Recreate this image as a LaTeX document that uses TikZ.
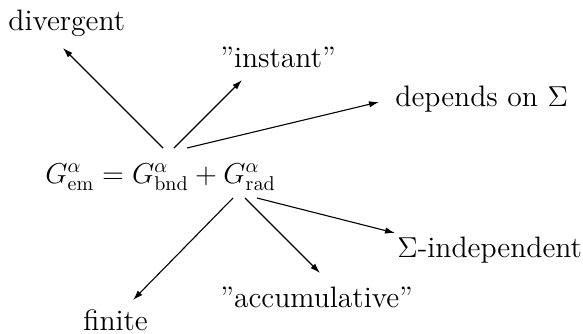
\documentclass[tikz,border=0pt]{standalone}
\usetikzlibrary{arrows.meta}
\begin{document}
\begin{tikzpicture}[x=0.5pt,y=-0.5pt,
  lbl/.style={anchor=base west,inner sep=0pt,font=\fontsize{14.8}{17}\selectfont},
  arr/.style={-{Latex[length=5pt,width=3.2pt]},line width=0.55pt}]
\useasboundingbox (0,0) rectangle (583,333);
\node[lbl] (div) at (8,30) {divergent};
\node[lbl] (ins) at (220,67) {''instant''};
\node[lbl] (dep) at (395,106) {depends on $\Sigma$};
\node[lbl] (eq) at (45,183) {$G^\alpha_{\mathrm{em}}=G^\alpha_{\mathrm{bnd}}+G^\alpha_{\mathrm{rad}}$};
\node[lbl] (ind) at (397,257) {$\Sigma$-independent};
\node[lbl] (acc) at (220,307) {''accumulative''};
\node[lbl] (fin) at (83,330) {finite};
\coordinate (s1) at (163,148); \coordinate (e1) at (63,48);
\coordinate (s2) at (174,148); \coordinate (e2) at (242,80);
\coordinate (s3) at (187,148); \coordinate (e3) at (379,102);
\coordinate (s4) at (233,198); \coordinate (e4) at (133,300);
\coordinate (s5) at (245,198); \coordinate (e5) at (320,273);
\coordinate (s6) at (257,198); \coordinate (e6) at (395,233);
\draw[arr] (s1) -- (e1);
\draw[arr] (s2) -- (e2);
\draw[arr] (s3) -- (e3);
\draw[arr] (s4) -- (e4);
\draw[arr] (s5) -- (e5);
\draw[arr] (s6) -- (e6);
\end{tikzpicture}
\end{document}
